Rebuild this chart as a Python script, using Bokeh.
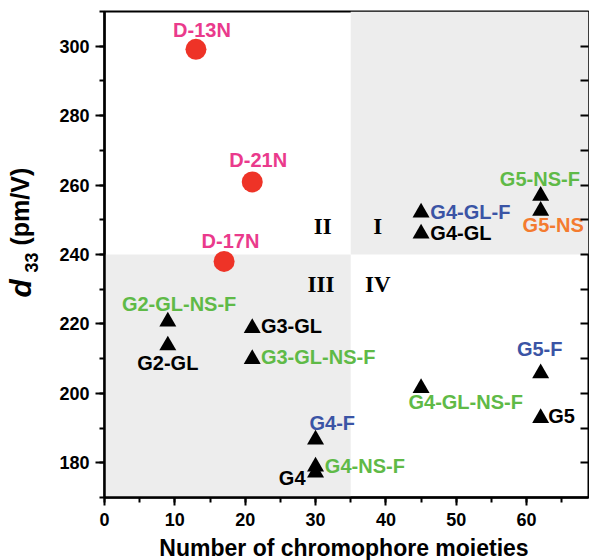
from bokeh.plotting import figure
from bokeh.models import ColumnDataSource, LinearAxis, SingleIntervalTicker, FixedTicker, Range1d
from bokeh.layouts import row, column
from bokeh.core.properties import value
from bokeh.embed import file_html
from bokeh.resources import INLINE

# ---------------- data ----------------
d_names = ["D-13N", "D-21N", "D-17N"]
d_x = [13, 21, 17]
d_y = [299.1, 260.9, 238.0]

g_names = ["G2-GL-NS-F", "G2-GL", "G3-GL", "G3-GL-NS-F", "G4-F", "G4-NS-F", "G4",
           "G4-GL-NS-F", "G5-F", "G5", "G4-GL-F", "G4-GL", "G5-NS-F", "G5-NS"]
g_x = [9, 9, 21, 21, 30, 30, 30, 45, 62, 62, 45, 45, 62, 62]
g_y = [220.7, 213.8, 218.8, 209.9, 186.7, 178.9, 177.2, 201.5, 205.8, 192.9,
       252.1, 246.0, 256.9, 252.6]

quadrant_names = ["II", "I", "III", "IV"]
x_split = 35
y_split = 240
x_lo, x_hi = 0, 68.8
y_lo, y_hi = 170, 310
y_side_ticks = [180, 190, 200, 210, 220, 230, 240, 250, 260, 270, 280, 290, 300]

x_title = "Number of chromophore moieties"
y_title_parts = ["d", "33", "(pm/V)"]

# ---------------- styles ----------------
PINK = "#ea3a8c"
RED = "#ee3327"
GREEN = "#5fba47"
BLUE = "#3a54a5"
ORANGE = "#f47b2f"
BLACK = "#000000"
SHADE = "#ededed"
FONT = "Liberation Sans"
BASE_FIX = 0.33    # empirical correction of the renderer's alphabetic baseline (in em)
ROT_FIX = 3        # extra px shift for rotated title pieces

g_colors = [GREEN, BLACK, BLACK, GREEN, BLUE, GREEN, BLACK, GREEN, BLUE, BLACK,
            BLUE, BLACK, GREEN, ORANGE]
g_dx = [11.3, 0, 8.7, 8.7, 16.7, 9.3, -10, 44.6, -1, 7.6, 9.3, 9.3, -0.8, 12.5]
g_dy = [-10.75, 24.5, 4.3, 4.9, -10.2, 5.5, 11.9, 20.3, -17.5, 4.3, 5.9, 5.9, -9.75, 21]
g_align = ["center", "center", "left", "left", "center", "left", "right", "center",
           "center", "left", "left", "left", "center", "center"]
d_dx = [6, 6, 6.4]
d_dy = [-13, -15, -13.7]
q_dx = [-28, 27, -29.7, 27]
q_dy = [-20.3, -20.3, 37.4, 37.4]

LBL_PX = 20
Q_PX = 23

TOTAL_W, TOTAL_H = 589, 560
YT_W = 50
XT_H = 26
MAIN_W = TOTAL_W - YT_W
MAIN_H = TOTAL_H - XT_H
FR_TOP, FR_BOT = 11, 497     # frame edges (page px)

p = figure(width=MAIN_W, height=MAIN_H, output_backend="svg", toolbar_location=None,
           x_range=Range1d(x_lo, x_hi), y_range=Range1d(y_lo, y_hi),
           min_border_left=104 - YT_W, min_border_right=1, min_border_top=FR_TOP,
           min_border_bottom=MAIN_H - FR_BOT,
           x_axis_type=None, y_axis_type=None)
p.background_fill_color = "white"
p.border_fill_color = "white"
p.outline_line_color = "black"
p.outline_line_width = 2
p.grid.visible = False

shade_src = ColumnDataSource(dict(left=[x_split, x_lo], right=[x_hi, x_split],
                                  bottom=[y_split, y_lo], top=[y_hi, y_split]))
p.quad(left="left", right="right", bottom="bottom", top="top", source=shade_src,
       fill_color=SHADE, line_color=None)

def style_axis(ax):
    ax.axis_line_width = 2.5
    ax.axis_line_color = "black"
    ax.major_tick_line_width = 2
    ax.minor_tick_line_width = 2
    ax.major_tick_line_color = "black"
    ax.minor_tick_line_color = "black"
    ax.major_label_text_font = FONT
    ax.major_label_text_font_style = "bold"
    ax.major_label_text_font_size = "18px"
    ax.major_label_text_color = "black"

xax = LinearAxis(ticker=SingleIntervalTicker(interval=10, num_minor_ticks=2))
style_axis(xax)
xax.major_tick_out = 8
xax.major_tick_in = 0
xax.minor_tick_out = 5
xax.minor_tick_in = 0
xax.major_label_standoff = 7
p.add_layout(xax, "below")

yax = LinearAxis(ticker=SingleIntervalTicker(interval=20, num_minor_ticks=2))
style_axis(yax)
yax.major_tick_out = 9
yax.major_tick_in = 0
yax.minor_tick_out = 5
yax.minor_tick_in = 0
yax.major_label_standoff = 6
p.add_layout(yax, "left")

rax = LinearAxis(ticker=FixedTicker(ticks=[], minor_ticks=y_side_ticks))
rax.axis_line_color = None
rax.minor_tick_in = 8
rax.minor_tick_out = 0
rax.minor_tick_line_width = 2
rax.minor_tick_line_color = "black"
rax.major_tick_line_color = None
p.add_layout(rax, "right")

d_src = ColumnDataSource(dict(x=d_x, y=d_y, name=d_names, dx=d_dx,
                              dy=[v - BASE_FIX * LBL_PX for v in d_dy]))
p.scatter("x", "y", source=d_src, marker="circle", size=21, fill_color=RED, line_color=None)
g_src = ColumnDataSource(dict(x=g_x, y=g_y, name=g_names, color=g_colors, dx=g_dx,
                              dy=[v - BASE_FIX * LBL_PX for v in g_dy], align=g_align))
p.scatter("x", "y", source=g_src, marker="triangle", size=17, fill_color="black", line_color=None)

p.text("x", "y", text="name", source=d_src, x_offset="dx", y_offset="dy",
       text_color=PINK, text_font=value(FONT), text_font_style="bold",
       text_font_size=f"{LBL_PX}px", text_align="center", text_baseline="alphabetic")
p.text("x", "y", text="name", source=g_src, x_offset="dx", y_offset="dy",
       text_color="color", text_font=value(FONT), text_font_style="bold",
       text_font_size=f"{LBL_PX}px", text_align="align", text_baseline="alphabetic")

q_src = ColumnDataSource(dict(x=[x_split] * 4, y=[y_split] * 4, name=quadrant_names,
                              dx=q_dx, dy=[v - BASE_FIX * Q_PX for v in q_dy]))
p.text("x", "y", text="name", source=q_src, x_offset="dx", y_offset="dy",
       text_color="black", text_font=value("Liberation Serif"), text_font_style="bold",
       text_font_size=f"{Q_PX}px", text_align="center", text_baseline="alphabetic")

def strip(w, h, btop=0, bbot=0):
    # ranges chosen so that data coordinates equal page pixels (y measured upward from strip bottom)
    f = figure(width=w, height=h, output_backend="svg", toolbar_location=None,
               x_range=Range1d(0, w), y_range=Range1d(bbot, h - btop),
               min_border_left=0, min_border_right=0, min_border_top=btop,
               min_border_bottom=bbot, x_axis_type=None, y_axis_type=None)
    f.outline_line_color = None
    f.grid.visible = False
    f.background_fill_color = "white"
    f.border_fill_color = "white"
    return f

# the row aligns this strip's frame with the main frame, so give it the same borders
yfig = strip(YT_W, MAIN_H, btop=FR_TOP, bbot=MAIN_H - FR_BOT)
ANG = 1.5707963
def ytext(txt, bx, sy, size, style):
    yfig.text(x=[bx - BASE_FIX * size - ROT_FIX], y=[MAIN_H - sy], text=[txt], angle=ANG,
              text_font=value(FONT), text_font_style=style, text_font_size=f"{size}px",
              text_color="black", text_align="left", text_baseline="alphabetic")

ytext(y_title_parts[0], 33, 297, 30, "bold italic")
ytext(y_title_parts[1], 40, 272, 18, "bold")
ytext(y_title_parts[2], 31, 245, 25, "bold")

xfig = strip(TOTAL_W, XT_H)
XT_PX = 23
xfig.text(x=[343.5], y=[TOTAL_H - 555 + BASE_FIX * XT_PX], text=[x_title],
          text_font=value(FONT), text_font_style="bold", text_font_size=f"{XT_PX}px",
          text_color="black", text_align="center", text_baseline="alphabetic")

layout = column(row(yfig, p, spacing=0), xfig, spacing=0)
open("out.html", "w").write(file_html(layout, INLINE))
